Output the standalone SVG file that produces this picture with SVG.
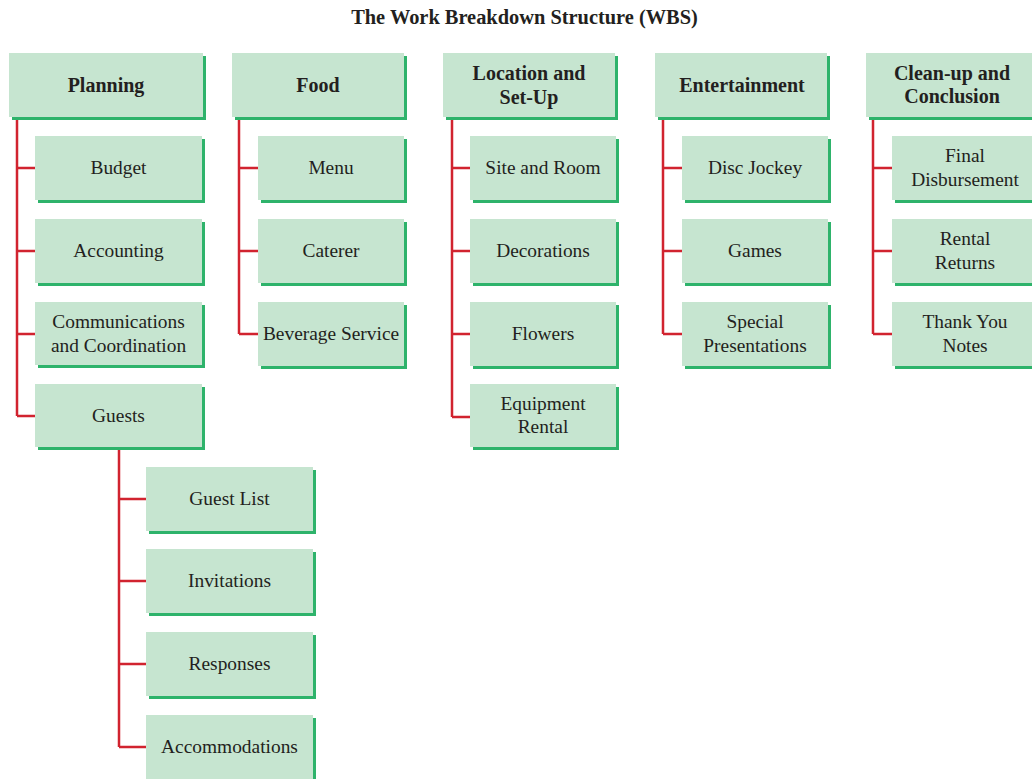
<svg xmlns="http://www.w3.org/2000/svg" width="1032" height="779" viewBox="0 0 1032 779">
<style>
.sh{fill:#2eb36b}
.bx{fill:#c6e5d0}
.t{font-family:"Liberation Serif","Times New Roman",serif;font-size:19.4px;fill:#231f20;text-anchor:middle}
.b{font-weight:bold;font-size:20px}
.c{stroke:#d1232f;stroke-width:2.5;fill:none}
</style>
<rect width="1032" height="779" fill="#ffffff"/>
<text class="t b" x="524.5" y="24" style="font-size:20.4px">The Work Breakdown Structure (WBS)</text>
<g id="connectors">
<path class="c" d="M17 117V416M17 168H35M17 251H35M17 334H35M17 416H35"/>
<path class="c" d="M119 448V747M119 499H146M119 581H146M119 664H146M119 747H146"/>
<path class="c" d="M239 117V334M239 168H258M239 251H258M239 334H258"/>
<path class="c" d="M452 117V417M452 168H470M452 251H470M452 334H470M452 417H470"/>
<path class="c" d="M663 117V334M663 168H682M663 251H682M663 334H682"/>
<path class="c" d="M873 117V334M873 168H892M873 251H892M873 334H892"/>
</g>
<g id="planning"><rect class="sh" x="12" y="56" width="194" height="64"/><rect class="bx" x="9" y="53" width="194" height="64"/><text class="t b" x="106" y="92">Planning</text></g>
<g id="food"><rect class="sh" x="235" y="56" width="172" height="64"/><rect class="bx" x="232" y="53" width="172" height="64"/><text class="t b" x="318" y="92">Food</text></g>
<g id="location"><rect class="sh" x="446" y="56" width="172" height="64"/><rect class="bx" x="443" y="53" width="172" height="64"/><text class="t b" x="529" y="80">Location and</text><text class="t b" x="529" y="104">Set-Up</text></g>
<g id="entertainment"><rect class="sh" x="658" y="56" width="172" height="64"/><rect class="bx" x="655" y="53" width="172" height="64"/><text class="t b" x="742" y="92">Entertainment</text></g>
<g id="cleanup"><rect class="sh" x="869" y="56" width="172" height="64"/><rect class="bx" x="866" y="53" width="172" height="64"/><text class="t b" x="952" y="80">Clean-up and</text><text class="t b" x="952" y="103">Conclusion</text></g>

<g id="budget"><rect class="sh" x="38" y="139" width="167" height="64"/><rect class="bx" x="35" y="136" width="167" height="64"/><text class="t" x="118.5" y="174">Budget</text></g>
<g id="accounting"><rect class="sh" x="38" y="222" width="167" height="64"/><rect class="bx" x="35" y="219" width="167" height="64"/><text class="t" x="118.5" y="257">Accounting</text></g>
<g id="communications"><rect class="sh" x="38" y="305" width="167" height="63"/><rect class="bx" x="35" y="302" width="167" height="63"/><text class="t" x="118.5" y="328">Communications</text><text class="t" x="118.5" y="352">and Coordination</text></g>
<g id="guests"><rect class="sh" x="38" y="387" width="167" height="63"/><rect class="bx" x="35" y="384" width="167" height="63"/><text class="t" x="118.5" y="422">Guests</text></g>

<g id="guest-list"><rect class="sh" x="149" y="470" width="167" height="64"/><rect class="bx" x="146" y="467" width="167" height="64"/><text class="t" x="229.5" y="505">Guest List</text></g>
<g id="invitations"><rect class="sh" x="149" y="552" width="167" height="64"/><rect class="bx" x="146" y="549" width="167" height="64"/><text class="t" x="229.5" y="587">Invitations</text></g>
<g id="responses"><rect class="sh" x="149" y="635" width="167" height="64"/><rect class="bx" x="146" y="632" width="167" height="64"/><text class="t" x="229.5" y="670">Responses</text></g>
<g id="accommodations"><rect class="sh" x="149" y="718" width="167" height="64"/><rect class="bx" x="146" y="715" width="167" height="64"/><text class="t" x="229.5" y="753">Accommodations</text></g>

<g id="menu"><rect class="sh" x="261" y="139" width="146" height="64"/><rect class="bx" x="258" y="136" width="146" height="64"/><text class="t" x="331" y="174">Menu</text></g>
<g id="caterer"><rect class="sh" x="261" y="222" width="146" height="64"/><rect class="bx" x="258" y="219" width="146" height="64"/><text class="t" x="331" y="257">Caterer</text></g>
<g id="beverage"><rect class="sh" x="261" y="305" width="146" height="64"/><rect class="bx" x="258" y="302" width="146" height="64"/><text class="t" x="331" y="340">Beverage Service</text></g>

<g id="site"><rect class="sh" x="473" y="139" width="146" height="64"/><rect class="bx" x="470" y="136" width="146" height="64"/><text class="t" x="543" y="174">Site and Room</text></g>
<g id="decorations"><rect class="sh" x="473" y="222" width="146" height="64"/><rect class="bx" x="470" y="219" width="146" height="64"/><text class="t" x="543" y="257">Decorations</text></g>
<g id="flowers"><rect class="sh" x="473" y="305" width="146" height="64"/><rect class="bx" x="470" y="302" width="146" height="64"/><text class="t" x="543" y="340">Flowers</text></g>
<g id="equipment"><rect class="sh" x="473" y="387" width="146" height="63"/><rect class="bx" x="470" y="384" width="146" height="63"/><text class="t" x="543" y="410">Equipment</text><text class="t" x="543" y="433">Rental</text></g>

<g id="disc-jockey"><rect class="sh" x="685" y="139" width="146" height="64"/><rect class="bx" x="682" y="136" width="146" height="64"/><text class="t" x="755" y="174">Disc Jockey</text></g>
<g id="games"><rect class="sh" x="685" y="222" width="146" height="64"/><rect class="bx" x="682" y="219" width="146" height="64"/><text class="t" x="755" y="257">Games</text></g>
<g id="special"><rect class="sh" x="685" y="305" width="146" height="64"/><rect class="bx" x="682" y="302" width="146" height="64"/><text class="t" x="755" y="328">Special</text><text class="t" x="755" y="352">Presentations</text></g>

<g id="final"><rect class="sh" x="895" y="139" width="146" height="64"/><rect class="bx" x="892" y="136" width="146" height="64"/><text class="t" x="965" y="162">Final</text><text class="t" x="965" y="186">Disbursement</text></g>
<g id="rental-returns"><rect class="sh" x="895" y="222" width="146" height="64"/><rect class="bx" x="892" y="219" width="146" height="64"/><text class="t" x="965" y="245">Rental</text><text class="t" x="965" y="269">Returns</text></g>
<g id="thank-you"><rect class="sh" x="895" y="305" width="146" height="64"/><rect class="bx" x="892" y="302" width="146" height="64"/><text class="t" x="965" y="328">Thank You</text><text class="t" x="965" y="352">Notes</text></g>
</svg>
